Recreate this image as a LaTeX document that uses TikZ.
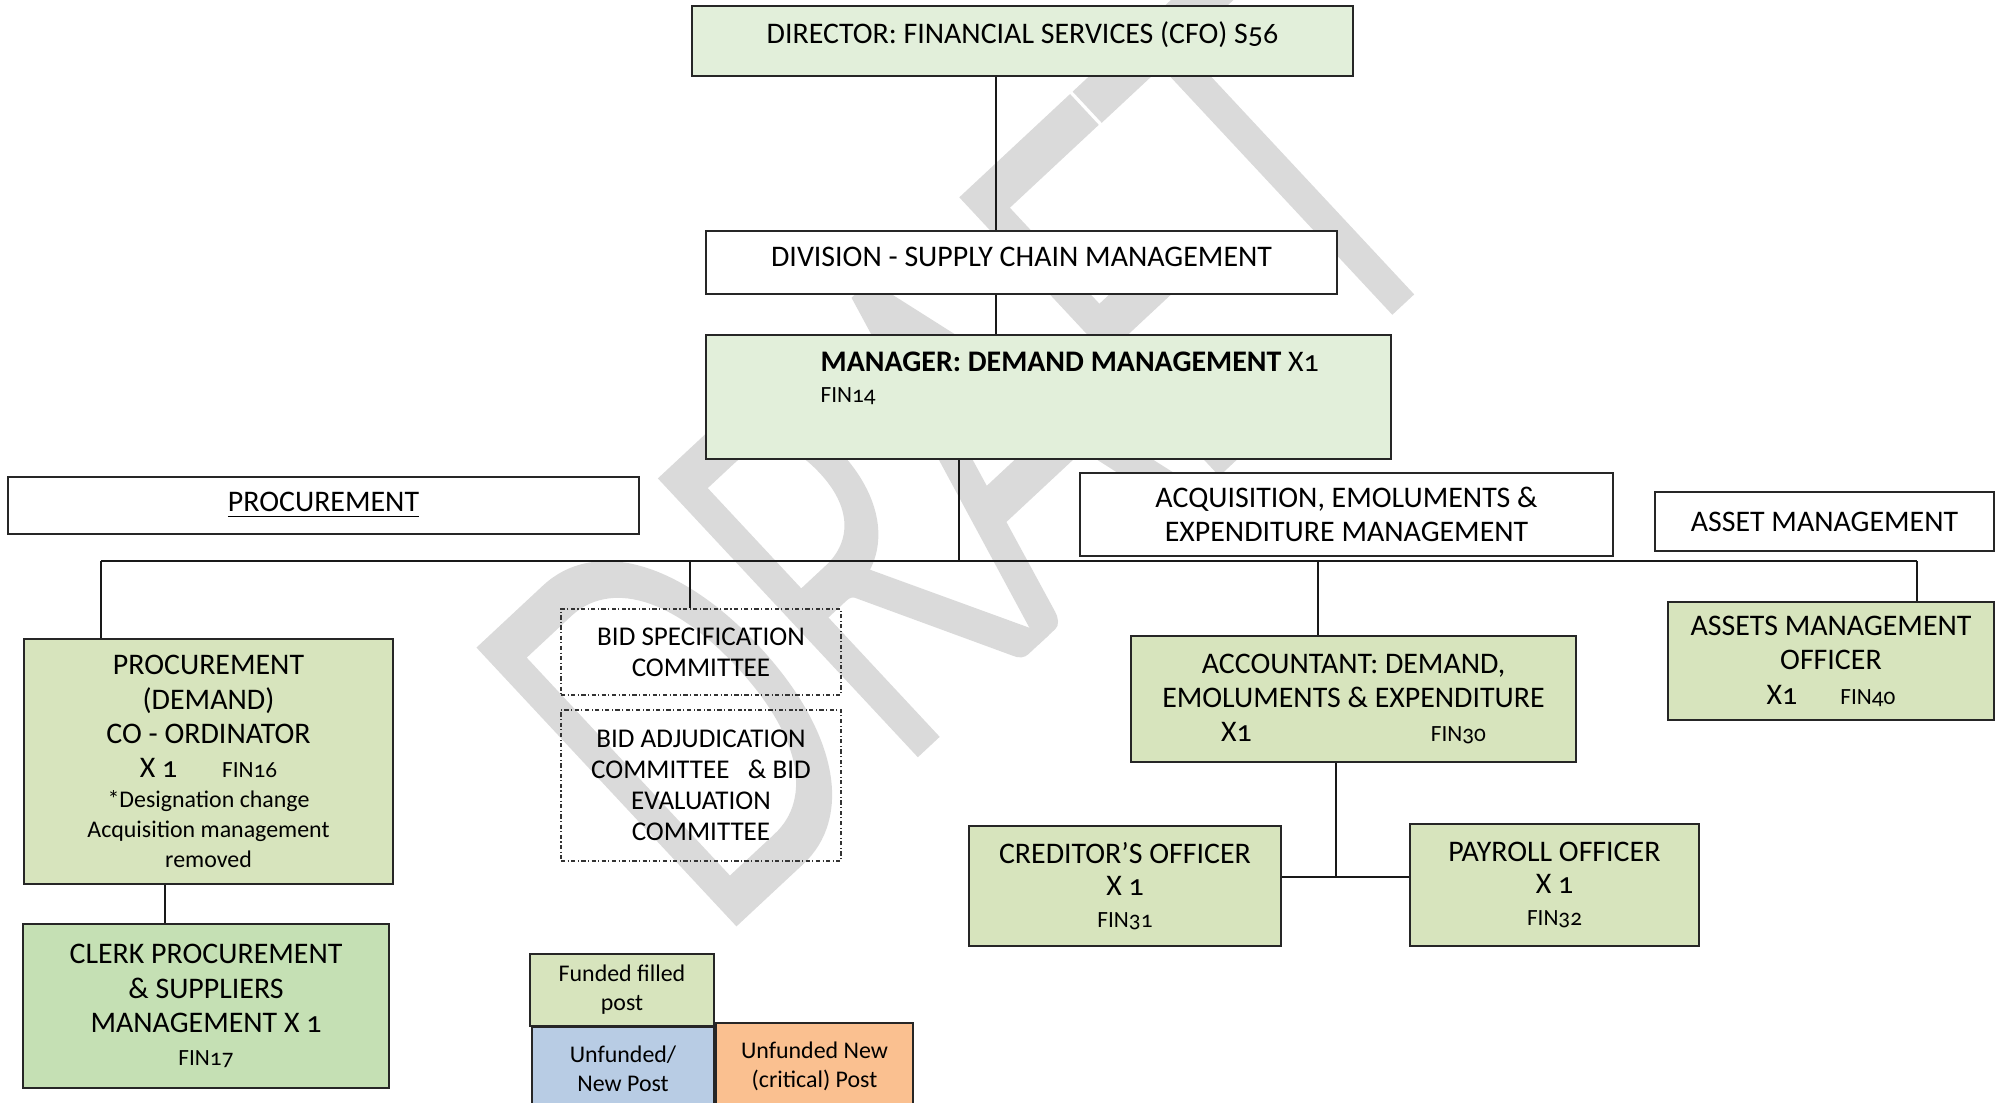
\documentclass[tikz,border=0pt]{standalone}
\usepackage{fontspec}
\setmainfont{Carlito}[Numbers=OldStyle]
\IfFontExistsTF{Lato Light}
  {\newfontfamily\wmfont{Lato Light}[FakeBold=4]\newcommand\wmsize{145}\newcommand\wmxs{0.64}}
  {\newfontfamily\wmfont{Carlito}\newcommand\wmsize{161}\newcommand\wmxs{0.68}}
\definecolor{headgreen}{HTML}{E2EFDA}
\definecolor{postgreen}{HTML}{D7E4BD}
\definecolor{clerkgreen}{HTML}{C5E0B4}
\definecolor{keyblue}{HTML}{B8CCE4}
\definecolor{keyorange}{HTML}{FAC090}
\definecolor{wmgray}{HTML}{DADADA}
\newcommand\szmain{\fontsize{8.5}{9.8}\selectfont}
\newcommand\szfin{\fontsize{6.6}{8}\selectfont}
\newcommand\szsmall{\fontsize{6.8}{8.4}\selectfont}
\newcommand\szbid{\fontsize{7.7}{8.8}\selectfont}
\newcommand\szkey{\fontsize{6.8}{8.3}\selectfont}
\begin{document}
\begin{tikzpicture}[x=0.01cm,y=-0.01cm,
    post/.style={draw=black!85,line width=0.55pt,fill=postgreen,inner sep=0pt,align=center,font=\szmain},
    head/.style={post,fill=headgreen},
    unit/.style={post,fill=white},
    cttee/.style={draw=black!80,line width=0.4pt,dash pattern=on 1.2pt off 0.7pt on 0.3pt off 0.7pt,inner sep=0pt,align=center,font=\szbid},
    key/.style={post,font=\szkey},
    link/.style={line width=0.45pt,draw=black!90},
    wmark/.style={anchor=base west,rotate=43,xscale=\wmxs,inner sep=0pt,text=wmgray,font=\wmfont\fontsize{\wmsize}{\wmsize}\selectfont}]
  \useasboundingbox (0,0) rectangle (1999,1103);
  % watermark
  \node[wmark] (draft) at (709,938) {DRAFT};

  % top of the chart
  \node[head,text depth=4.9pt,minimum width=6.61cm,minimum height=0.70cm] (dir) at (1022.5,41) {DIRECTOR: FINANCIAL SERVICES (CFO) S56};
  \node[unit,text depth=3.4pt,minimum width=6.31cm,minimum height=0.63cm] (div) at (1021.5,262.5) {DIVISION - SUPPLY CHAIN MANAGEMENT};
  \node[head,minimum width=6.85cm,minimum height=1.24cm] (mgr) at (1048.5,397) {};
  \node[anchor=north west,align=left,inner sep=0pt,font=\szmain] (mgrtxt) at (820,351) {\textbf{MANAGER: DEMAND MANAGEMENT} X1\\[-1pt]{\szfin FIN14}};

  % section headings
  \node[unit,minimum width=6.31cm,minimum height=0.57cm] (proc) at (323.5,505.5) {\underline{PROCUREMENT}};
  \node[unit,minimum width=5.33cm,minimum height=0.83cm] (acq) at (1346.5,514.5) {ACQUISITION, EMOLUMENTS \&\\EXPENDITURE MANAGEMENT};
  \node[unit,minimum width=3.39cm,minimum height=0.59cm] (asset) at (1824.5,521.5) {ASSET MANAGEMENT};

  % posts
  \node[post,minimum width=3.69cm,minimum height=2.45cm] (coord) at (208.5,761.5) {PROCUREMENT\\(DEMAND)\\CO - ORDINATOR\\X 1\hspace{0.45cm}{\szfin FIN16}\\[-1.3pt]{\szsmall *Designation change}\\[-1.3pt]{\szsmall Acquisition management}\\[-1.3pt]{\szsmall removed}};
  \node[post,fill=clerkgreen,minimum width=3.66cm,minimum height=1.64cm] (clerk) at (206,1006) {CLERK PROCUREMENT\\\& SUPPLIERS\\MANAGEMENT X 1\\[-0.5pt]{\szfin FIN17}};
  \node[cttee,minimum width=2.80cm,minimum height=0.86cm] (bidspec) at (701,652) {BID SPECIFICATION\\COMMITTEE};
  \node[cttee,minimum width=2.80cm,minimum height=1.51cm] (bidadj) at (701,785.5) {BID ADJUDICATION\\COMMITTEE\ \ \ \& BID\\EVALUATION\\COMMITTEE};
  \node[post,minimum width=4.45cm,minimum height=1.26cm] (acct) at (1353.5,699) {ACCOUNTANT: DEMAND,\\EMOLUMENTS \& EXPENDITURE\\X1\hspace{1.79cm}{\szfin FIN30}};
  \node[post,minimum width=3.12cm,minimum height=1.20cm] (cred) at (1125,886) {CREDITOR’S OFFICER\\[-0.8pt]X 1\\[-0.8pt]{\szfin FIN31}};
  \node[post,minimum width=2.89cm,minimum height=1.22cm] (pay) at (1554.5,885) {PAYROLL OFFICER\\[-0.8pt]X 1\\[-0.8pt]{\szfin FIN32}};
  \node[post,minimum width=3.26cm,minimum height=1.18cm] (amo) at (1831,661) {ASSETS MANAGEMENT\\OFFICER\\X1\hspace{0.43cm}{\szfin FIN40}};

  % key
  \node[key,minimum width=1.84cm,minimum height=0.72cm] (kfund) at (622,990) {Funded filled\\post};
  \node[key,fill=keyblue,minimum width=1.82cm,minimum height=0.83cm] (knew) at (623,1068.5) {Unfunded/\\New Post};
  \node[key,fill=keyorange,minimum width=1.97cm,minimum height=0.87cm] (kcrit) at (814.5,1066.5) {Unfunded New\\(critical) Post};

  % connectors
  \coordinate (spine) at (996,0);
  \coordinate (b1) at (101,561);
  \coordinate (b2) at (690,561);
  \coordinate (b3) at (959,561);
  \coordinate (b4) at (1318,561);
  \coordinate (b5) at (1917,561);
  \coordinate (cc) at (165,0);
  \coordinate (cp) at (1336,877);
  \draw[link] (dir.south -| spine) -- (div.north -| spine);
  \draw[link] (div.south -| spine) -- (mgr.north -| spine);
  \draw[link] (b3) -- (b3 |- mgr.south);
  \draw[link] (b1) -- (b5);
  \draw[link] (b1) -- (b1 |- coord.north);
  \draw[link] (b2) -- (b2 |- bidspec.north);
  \draw[link] (b4) -- (b4 |- acct.north);
  \draw[link] (b5) -- (b5 |- amo.north);
  \draw[link] (coord.south -| cc) -- (clerk.north -| cc);
  \draw[link] (cp) -- (cp |- acct.south);
  \draw[link] (cp -| cred.east) -- (cp -| pay.west);
\end{tikzpicture}
\end{document}
